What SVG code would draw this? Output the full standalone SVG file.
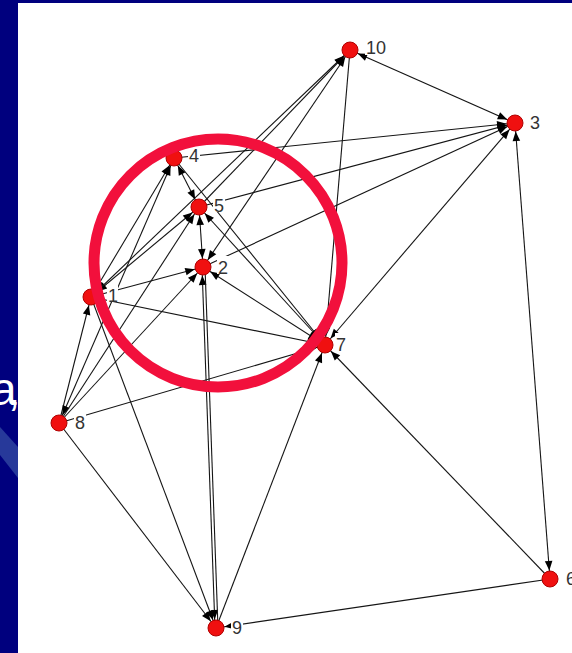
<svg xmlns="http://www.w3.org/2000/svg" width="572" height="653" viewBox="0 0 572 653">
<style>
.e{stroke:#151515;stroke-width:1.1;fill:none}
.one{marker-end:url(#ar)}
.two{marker-end:url(#ar);marker-start:url(#ar)}
.n{fill:#f01010;stroke:#b00000;stroke-width:1}
.lb{font-family:"Liberation Sans",Arial,sans-serif;font-size:18px;fill:#333}
.lbg{fill:#ffffff}
</style>
<defs>
<marker id="ar" viewBox="-20 -5 20 10" refX="0" refY="0" markerWidth="20" markerHeight="10" markerUnits="userSpaceOnUse" orient="auto-start-reverse">
<path d="M-18,-3.8 L-8.5,0 L-18,3.8 Z" fill="#000"/>
</marker>
</defs>
<rect x="0" y="0" width="572" height="653" fill="#00007e"/>
<polygon points="0,427 18,447 18,478 0,455" fill="#27399a"/>
<text x="-9" y="405" font-family="Liberation Sans,Arial,sans-serif" font-size="46" letter-spacing="-9" fill="#ffffff">a,</text>
<rect x="18" y="3" width="554" height="650" fill="#ffffff"/>
<g id="connectors">
<line class="e two" x1="350" y1="50" x2="515" y2="123"/>
<line class="e two" x1="515" y1="123" x2="550" y2="579"/>
<line class="e one" x1="350" y1="50" x2="325" y2="345"/>
<line class="e one" x1="550" y1="579" x2="325" y2="345"/>
<line class="e one" x1="550" y1="579" x2="216" y2="628"/>
<line class="e one" x1="216" y1="628" x2="325" y2="345"/>
<line class="e two" x1="202" y1="267" x2="215" y2="628"/>
<line class="e" x1="205" y1="267" x2="218" y2="628"/>
<line class="e one" x1="59" y1="423" x2="216" y2="628"/>
<line class="e one" x1="91" y1="297" x2="216" y2="628"/>
<line class="e one" x1="59" y1="423" x2="91" y2="297"/>
<line class="e two" x1="59" y1="423" x2="174" y2="158"/>
<line class="e one" x1="59" y1="423" x2="199" y2="207"/>
<line class="e one" x1="59" y1="423" x2="203" y2="267"/>
<line class="e one" x1="59" y1="423" x2="325" y2="345"/>
<line class="e two" x1="91" y1="297" x2="174" y2="158"/>
<line class="e two" x1="91" y1="297" x2="199" y2="207"/>
<line class="e one" x1="91" y1="297" x2="350" y2="50"/>
<line class="e one" x1="199" y1="207" x2="350" y2="50"/>
<line class="e two" x1="203" y1="267" x2="350" y2="50"/>
<line class="e one" x1="91" y1="297" x2="203" y2="267"/>
<line class="e one" x1="91" y1="297" x2="325" y2="345"/>
<line class="e two" x1="174" y1="158" x2="199" y2="207"/>
<line class="e two" x1="199" y1="207" x2="203" y2="267"/>
<line class="e one" x1="174" y1="158" x2="515" y2="123"/>
<line class="e one" x1="199" y1="207" x2="515" y2="123"/>
<line class="e one" x1="203" y1="267" x2="515" y2="123"/>
<line class="e two" x1="325" y1="345" x2="515" y2="123"/>
<line class="e two" x1="199" y1="207" x2="325" y2="345"/>
<line class="e one" x1="174" y1="158" x2="325" y2="345"/>
<line class="e two" x1="203" y1="267" x2="325" y2="345"/>
</g>
<g id="node-10"><circle class="n" cx="350" cy="50" r="8"/><rect class="lbg" x="365" y="37" width="23" height="18"/><text class="lb" x="366" y="54">10</text></g>
<g id="node-3"><circle class="n" cx="515" cy="123" r="8"/><rect class="lbg" x="529" y="111" width="12" height="18"/><text class="lb" x="530" y="129">3</text></g>
<g id="node-4"><circle class="n" cx="174" cy="158" r="8"/><rect class="lbg" x="188" y="144" width="12" height="18"/><text class="lb" x="189" y="162">4</text></g>
<g id="node-5"><circle class="n" cx="199" cy="207" r="8"/><rect class="lbg" x="213" y="194" width="12" height="18"/><text class="lb" x="214" y="212">5</text></g>
<g id="node-2"><circle class="n" cx="203" cy="267" r="8"/><rect class="lbg" x="217" y="256" width="12" height="18"/><text class="lb" x="218" y="274">2</text></g>
<g id="node-1"><circle class="n" cx="91" cy="297" r="8"/><rect class="lbg" x="107" y="284" width="11" height="18"/><text class="lb" x="108" y="302">1</text></g>
<g id="node-7"><circle class="n" cx="325" cy="345" r="8"/><rect class="lbg" x="335" y="333" width="12" height="18"/><text class="lb" x="336" y="351">7</text></g>
<g id="node-8"><circle class="n" cx="59" cy="423" r="8"/><rect class="lbg" x="74" y="411" width="12" height="18"/><text class="lb" x="75" y="429">8</text></g>
<g id="node-9"><circle class="n" cx="216" cy="628" r="8"/><rect class="lbg" x="231" y="616" width="12" height="18"/><text class="lb" x="232" y="634">9</text></g>
<g id="node-6"><circle class="n" cx="550" cy="579" r="8"/><rect class="lbg" x="565" y="567" width="12" height="18"/><text class="lb" x="566" y="585">6</text></g>
<circle id="highlight" cx="218" cy="263" r="124" fill="none" stroke="#f2103c" stroke-width="11"/>
</svg>
